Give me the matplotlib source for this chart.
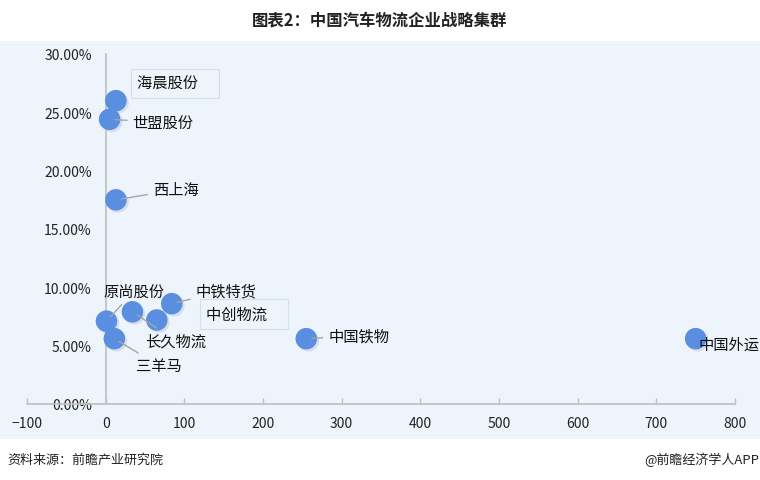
import matplotlib
matplotlib.use("Agg")
import matplotlib.pyplot as plt
import matplotlib.patheffects as pe
from matplotlib.ticker import FuncFormatter

plt.rcParams['font.family'] = ['Noto Sans CJK SC', 'DejaVu Sans']

names = ["海晨股份", "世盟股份", "西上海", "原尚股份", "长久物流", "中创物流",
         "中铁特货", "三羊马", "中国铁物", "中国外运"]
x_vals = [13, 5, 13, 1, 34, 65, 84, 11, 255, 750]
y_vals = [0.260, 0.244, 0.175, 0.071, 0.079, 0.072, 0.086, 0.056, 0.056, 0.056]

x_ticks = [-100, 0, 100, 200, 300, 400, 500, 600, 700, 800]
y_ticks = [0.0, 0.05, 0.10, 0.15, 0.20, 0.25, 0.30]

title = "图表2：中国汽车物流企业战略集群"
source = "资料来源：前瞻产业研究院"
credit = "@前瞻经济学人APP"

W, H = 760, 481
fig = plt.figure(figsize=(W / 100, H / 100), dpi=100)
fig.patch.set_facecolor("white")

# light blue panel (background axes)
bg = fig.add_axes([0, 1 - 440 / H, 1, (440 - 42) / H], zorder=-5)
bg.set_facecolor("#EEF4FC")
bg.set_xticks([]); bg.set_yticks([])
for s in bg.spines.values():
    s.set_visible(False)

ax = fig.add_axes([27 / W, 1 - 405 / H, 708 / W, 350 / H])
ax.set_facecolor("none")
ax.set_xlim(-100, 800)
ax.set_ylim(0, 0.30)
gray = "#BFBFBF"
ax.spines["top"].set_visible(False)
ax.spines["right"].set_visible(False)
ax.spines["left"].set_position(("data", 0))
ax.spines["left"].set_color(gray)
ax.spines["left"].set_linewidth(1.2)
ax.spines["bottom"].set_color(gray)
ax.spines["bottom"].set_linewidth(1.2)

ax.set_xticks(x_ticks)
ax.set_yticks(y_ticks)
ax.yaxis.set_major_formatter(FuncFormatter(lambda v, p: f"{v*100:.2f}%"))
ax.tick_params(axis="x", direction="in", length=4, color=gray, width=1.0,
               labelsize=10, labelcolor="#222222", pad=9)
ax.tick_params(axis="y", length=0, labelsize=10, labelcolor="#222222", pad=10)

sc = ax.scatter(x_vals, y_vals, s=240, color="#5A8EE0", edgecolors="none", zorder=3, clip_on=False)
sc.set_path_effects([pe.SimplePatchShadow(offset=(1.5, -1.5), shadow_rgbFace="#8090A8", alpha=0.22), pe.Normal()])

# label offsets in pixels (dx, dy), leader, box
label_cfg = {
    "海晨股份": ((21, 17), False, True),
    "世盟股份": ((23, -3), True, False),
    "西上海": ((37, 10), True, False),
    "原尚股份": ((-3, 30), True, False),
    "长久物流": ((13, -29), True, False),
    "中创物流": ((49, 6), False, True),
    "中铁特货": ((24, 13), True, False),
    "三羊马": ((22, -27), True, False),
    "中国铁物": ((22, 3), True, False),
    "中国外运": ((3, -6), False, False),
}

for n, x, y in zip(names, x_vals, y_vals):
    (dx, dy), leader, box = label_cfg[n]
    label = n + "\u3000" if box else n
    kw = dict(xy=(x, y), xytext=(dx, dy), textcoords="offset pixels",
              ha="left", va="center", fontsize=11, color="#111111", zorder=5,
              annotation_clip=False)
    if leader:
        kw["arrowprops"] = dict(arrowstyle="-", color="#A6A6A6", lw=1.0,
                                shrinkA=2, shrinkB=4)
    if box:
        kw["bbox"] = dict(boxstyle="square,pad=0.4", facecolor="#EEF4FC",
                          edgecolor="#D6DEE8", lw=0.8)
    ax.annotate(label, **kw)

fig.text(0.5, 1 - 20 / H, title, ha="center", va="center", fontsize=11.8,
         fontweight="bold", color="#222222")
fig.text(7 / W, 1 - 460 / H, source, ha="left", va="center", fontsize=9.4, color="#222222")
fig.text(1 - 1 / W, 1 - 460 / H, credit, ha="right", va="center", fontsize=9.4, color="#222222")

fig.savefig("out.png", dpi=100, facecolor="white")
